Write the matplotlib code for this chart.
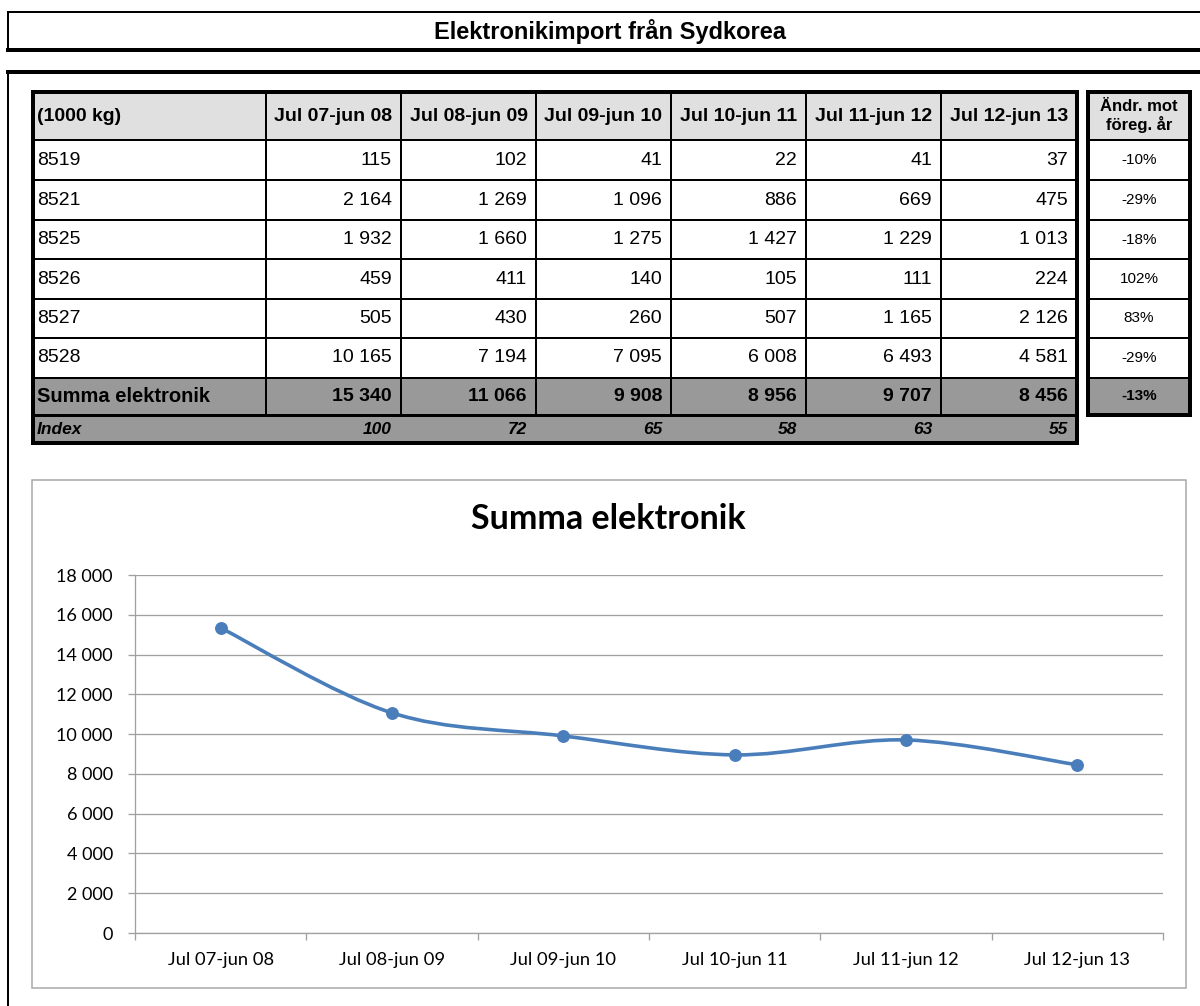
import matplotlib
matplotlib.use("Agg")
import matplotlib.pyplot as plt
from matplotlib.patches import Rectangle, PathPatch
from matplotlib.path import Path
from matplotlib.ticker import FixedLocator, FuncFormatter, NullFormatter

# data
periods = ["Jul 07-jun 08", "Jul 08-jun 09", "Jul 09-jun 10",
           "Jul 10-jun 11", "Jul 11-jun 12", "Jul 12-jun 13"]
codes = ["8519", "8521", "8525", "8526", "8527", "8528"]
v8519 = [115, 102, 41, 22, 41, 37]
v8521 = [2164, 1269, 1096, 886, 669, 475]
v8525 = [1932, 1660, 1275, 1427, 1229, 1013]
v8526 = [459, 411, 140, 105, 111, 224]
v8527 = [505, 430, 260, 507, 1165, 2126]
v8528 = [10165, 7194, 7095, 6008, 6493, 4581]
summa = [15340, 11066, 9908, 8956, 9707, 8456]
index_vals = [100, 72, 65, 58, 63, 55]
pct_change = [-10, -29, -18, 102, 83, -29]
pct_summa = -13

rows = [v8519, v8521, v8525, v8526, v8527, v8528]

TABLE_FONT = "Liberation Sans"
CHART_FONT = "Lato"


def fmt(v):
    return f"{v:,}".replace(",", " ")


fig = plt.figure(figsize=(12, 10.06), dpi=100)
bg = fig.add_axes([0, 0, 1, 1])
bg.set_xlim(0, 1200)
bg.set_ylim(1006, 0)
bg.axis("off")


def px(w):
    # pixel width -> points
    return w * 72 / 100


def hline(x0, x1, y, w):
    bg.plot([x0, x1], [y, y], color="black", lw=px(w), solid_capstyle="projecting")


def vline(x, y0, y1, w):
    bg.plot([x, x], [y0, y1], color="black", lw=px(w), solid_capstyle="projecting")


# title bar
hline(8, 1205, 12, 2)
hline(8, 1205, 50, 4)
vline(8, 12, 50, 2)
bg.text(610, 31, "Elektronikimport från Sydkorea", ha="center", va="center",
        fontsize=17, fontweight="bold", family=TABLE_FONT)

# outer frame
hline(8, 1205, 72, 4)
vline(8, 72, 1010, 2)

# main table geometry
col_x = [33, 266, 401, 536, 671, 806, 941, 1077]
row_y = [92, 140, 180, 220, 259, 299, 338, 378, 415, 443]
tx0, tx1 = col_x[0], col_x[-1]

bg.add_patch(Rectangle((tx0, row_y[0]), tx1 - tx0, row_y[1] - row_y[0],
                       facecolor="#e0e0e0", edgecolor="none"))
bg.add_patch(Rectangle((tx0, row_y[7]), tx1 - tx0, row_y[9] - row_y[7],
                       facecolor="#999999", edgecolor="none"))

for y in row_y[1:8]:
    hline(tx0, tx1, y, 2)
hline(tx0, tx1, row_y[8], 3)
for x in col_x[1:-1]:
    vline(x, row_y[0], row_y[8], 2)
# outer border
hline(tx0, tx1, row_y[0], 4)
hline(tx0, tx1, row_y[-1], 4)
vline(tx0, row_y[0], row_y[-1], 4)
vline(tx1, row_y[0], row_y[-1], 4)

hdr_y = (row_y[0] + row_y[1]) / 2
bg.text(col_x[0] + 4, hdr_y, "(1000 kg)", ha="left", va="center",
        fontsize=14, fontweight="bold", family=TABLE_FONT)
for i, p in enumerate(periods):
    bg.text((col_x[i + 1] + col_x[i + 2]) / 2, hdr_y, p, ha="center", va="center",
            fontsize=14, fontweight="bold", family=TABLE_FONT)

for r, (code, vals) in enumerate(zip(codes, rows)):
    yc = (row_y[r + 1] + row_y[r + 2]) / 2
    bg.text(col_x[0] + 4, yc, code, ha="left", va="center", fontsize=14, family=TABLE_FONT)
    for i, v in enumerate(vals):
        bg.text(col_x[i + 2] - 9, yc, fmt(v), ha="right", va="center",
                fontsize=14, family=TABLE_FONT)

ys = (row_y[7] + row_y[8]) / 2
bg.text(col_x[0] + 4, ys, "Summa elektronik", ha="left", va="center",
        fontsize=14.5, fontweight="bold", family=TABLE_FONT)
for i, v in enumerate(summa):
    bg.text(col_x[i + 2] - 9, ys, fmt(v), ha="right", va="center",
            fontsize=14, fontweight="bold", family=TABLE_FONT)

yi = (row_y[8] + row_y[9]) / 2
bg.text(col_x[0] + 4, yi, "Index", ha="left", va="center", fontsize=12.5,
        fontweight="bold", style="italic", family=TABLE_FONT)
for i, v in enumerate(index_vals):
    bg.text(col_x[i + 2] - 9, yi, str(v), ha="right", va="center", fontsize=12.5,
            fontweight="bold", style="italic", family=TABLE_FONT)

# side table: change vs previous year
sx0, sx1 = 1088, 1190
bg.add_patch(Rectangle((sx0, row_y[0]), sx1 - sx0, row_y[1] - row_y[0],
                       facecolor="#e0e0e0", edgecolor="none"))
bg.add_patch(Rectangle((sx0, row_y[7]), sx1 - sx0, row_y[8] - row_y[7],
                       facecolor="#999999", edgecolor="none"))
for y in row_y[1:8]:
    hline(sx0, sx1, y, 2)
hline(sx0, sx1, row_y[0], 4)
hline(sx0, sx1, row_y[8], 4)
vline(sx0, row_y[0], row_y[8], 4)
vline(sx1, row_y[0], row_y[8], 4)
sxc = (sx0 + sx1) / 2
bg.text(sxc, hdr_y, "Ändr. mot\nföreg. år", ha="center", va="center", fontsize=12,
        fontweight="bold", family=TABLE_FONT, linespacing=1.15)
for r, p in enumerate(pct_change):
    yc = (row_y[r + 1] + row_y[r + 2]) / 2
    bg.text(sxc, yc, f"{p}%", ha="center", va="center", fontsize=11, family=TABLE_FONT)
bg.text(sxc, ys, f"{pct_summa}%", ha="center", va="center", fontsize=11,
        fontweight="bold", family=TABLE_FONT)

# chart frame
bg.add_patch(Rectangle((32, 480), 1154, 508, facecolor="white",
                       edgecolor="#a6a6a6", lw=px(1.5)))
bg.text(608, 519, "Summa elektronik", ha="center", va="center", fontsize=24.5,
        fontweight="bold", family=CHART_FONT)

L, R, T, B = 135, 1163, 575, 933
ax = fig.add_axes([L / 1200, (1006 - B) / 1006, (R - L) / 1200, (B - T) / 1006])
ax.set_facecolor("none")
ax.set_xlim(-0.5, len(periods) - 0.5)
ax.set_ylim(0, 18000)
ax.set_yticks(range(0, 18001, 2000))
ax.yaxis.set_major_formatter(FuncFormatter(lambda v, _: fmt(int(v))))
ax.grid(axis="y", color="#a0a0a0", lw=px(1.3))
ax.set_axisbelow(True)
for s in ["top", "right"]:
    ax.spines[s].set_visible(False)
for s in ["left", "bottom"]:
    ax.spines[s].set_color("#a0a0a0")
    ax.spines[s].set_linewidth(px(1.3))

xs = list(range(len(periods)))
ax.xaxis.set_major_locator(FixedLocator([x - 0.5 for x in range(len(periods) + 1)]))
ax.xaxis.set_major_formatter(NullFormatter())
ax.xaxis.set_minor_locator(FixedLocator(xs))
ax.set_xticklabels(periods, minor=True)
ax.tick_params(axis="x", which="major", length=5, color="#a0a0a0", width=px(1.3))
ax.tick_params(axis="x", which="minor", length=0, pad=14, labelsize=13.2)
ax.tick_params(axis="y", length=5, color="#a0a0a0", width=px(1.3), labelsize=13, pad=11)
for lab in ax.get_xticklabels(minor=True) + ax.get_yticklabels():
    lab.set_family(CHART_FONT)

# smoothed line (Excel-style cardinal bezier through the points)
pts = list(zip(xs, summa))
verts = [pts[0]]
codes_p = [Path.MOVETO]
n = len(pts)
for i in range(n - 1):
    p0 = pts[i - 1] if i > 0 else pts[i]
    p1 = pts[i]
    p2 = pts[i + 1]
    p3 = pts[i + 2] if i + 2 < n else pts[i + 1]
    c1 = (p1[0] + (p2[0] - p0[0]) / 6, p1[1] + (p2[1] - p0[1]) / 6)
    c2 = (p2[0] - (p3[0] - p1[0]) / 6, p2[1] - (p3[1] - p1[1]) / 6)
    verts += [c1, c2, p2]
    codes_p += [Path.CURVE4] * 3
ax.add_patch(PathPatch(Path(verts, codes_p), facecolor="none", edgecolor="#4a7ebb",
                       lw=px(3.6), capstyle="round", joinstyle="round", zorder=3))
ax.plot(xs, summa, linestyle="none", marker="o", ms=px(11.5), color="#4a7ebb", zorder=4)

fig.savefig("out.png", dpi=100)
